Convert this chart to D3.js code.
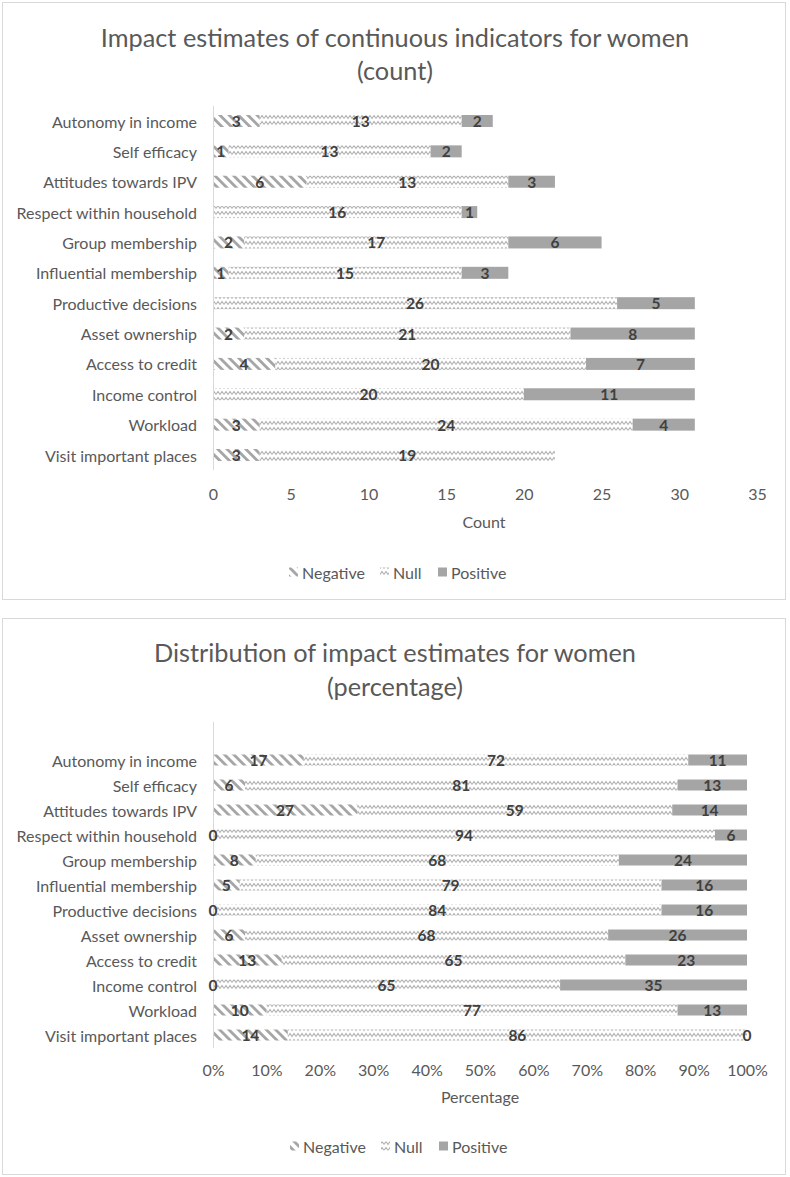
<!DOCTYPE html>
<html>
<head>
<meta charset="utf-8">
<script src="https://cdn.jsdelivr.net/npm/d3@7"></script>
<style>
  html, body { margin: 0; padding: 0; background: #fff; }
  svg { display: block; font-family: Lato, "Open Sans", sans-serif; }
</style>
</head>
<body>
<svg id="chart" width="790" height="1177"></svg>
<script>
// ---------------- data ----------------
const categories = [
  "Autonomy in income", "Self efficacy", "Attitudes towards IPV",
  "Respect within household", "Group membership", "Influential membership",
  "Productive decisions", "Asset ownership", "Access to credit",
  "Income control", "Workload", "Visit important places"
];
const seriesNames = ["Negative", "Null", "Positive"];

// counts (top chart)
const countNegative = [3, 1, 6, 0, 2, 1, 0, 2, 4, 0, 3, 3];
const countNull     = [13, 13, 13, 16, 17, 15, 26, 21, 20, 20, 24, 19];
const countPositive = [2, 2, 3, 1, 6, 3, 5, 8, 7, 11, 4, 0];

// percentages (bottom chart)
const pctNegative = [17, 6, 27, 0, 8, 5, 0, 6, 13, 0, 10, 14];
const pctNull     = [72, 81, 59, 94, 68, 79, 84, 68, 65, 65, 77, 86];
const pctPositive = [11, 13, 14, 6, 24, 16, 16, 26, 23, 35, 13, 0];

const countTicks = [0, 5, 10, 15, 20, 25, 30, 35];
const pctTicks = [0, 0.1, 0.2, 0.3, 0.4, 0.5, 0.6, 0.7, 0.8, 0.9, 1.0];

// ---------------- styles ----------------
const TXT = "#595959";
const LBL = "#404040";
const GRID = "#d9d9d9";
const FONT = "Lato, 'Open Sans', sans-serif";
const FS = 16;

const svg = d3.select("#chart");
const defs = svg.append("defs");

// Negative: diagonal stripes "\"
const pNeg = defs.append("pattern")
  .attr("id", "pNeg").attr("patternUnits", "userSpaceOnUse")
  .attr("width", 6.6).attr("height", 6.6)
  .attr("patternTransform", "rotate(-45)");
pNeg.append("rect").attr("x", 0).attr("y", 0).attr("width", 2.8).attr("height", 6.6).attr("fill", "#a6a6a6");

// Null: wave
const pNull = defs.append("pattern")
  .attr("id", "pNull").attr("patternUnits", "userSpaceOnUse")
  .attr("width", 8).attr("height", 6);
pNull.append("path").attr("d", "M0,4.5 L2,1.5 L4,4.5 L6,1.5 L8,4.5")
  .attr("fill", "none").attr("stroke", "#b3b3b3").attr("stroke-width", 1.1);

const fills = { Negative: "url(#pNeg)", Null: "url(#pNull)", Positive: "#a5a5a5" };

function panel(y0, h) {
  svg.append("rect").attr("x", 2.5).attr("y", y0 + 0.5).attr("width", 783).attr("height", h)
    .attr("fill", "#fff").attr("stroke", GRID).attr("stroke-width", 1);
}

function drawChart(cfg) {
  panel(cfg.panelY, cfg.panelH);
  const g = svg.append("g").attr("font-family", FONT);

  // title
  cfg.title.forEach((t, i) => {
    g.append("text").attr("x", 395).attr("y", cfg.titleY[i])
      .attr("text-anchor", "middle").attr("dominant-baseline", "central")
      .attr("fill", TXT).attr("font-size", 25.3).text(t);
  });

  const rows = categories.map((c, i) => ({
    cat: c, Negative: cfg.neg[i], Null: cfg.nul[i], Positive: cfg.pos[i]
  }));

  const stack = d3.stack().keys(seriesNames);
  if (cfg.expand) stack.offset(d3.stackOffsetExpand);
  const layers = stack(rows);

  const x = d3.scaleLinear().domain(cfg.domain).range([213, cfg.xMax]);
  const y = d3.scalePoint().domain(categories).range(cfg.rowRange);
  const bh = cfg.barH;

  // bars
  layers.forEach(layer => {
    g.append("g").selectAll("rect").data(layer).join("rect")
      .attr("x", d => x(d[0]))
      .attr("y", d => y(d.data.cat) - bh / 2)
      .attr("width", d => Math.max(0, x(d[1]) - x(d[0])))
      .attr("height", bh)
      .attr("fill", fills[layer.key]);
  });

  // vertical axis line
  g.append("line").attr("x1", 213.5).attr("x2", 213.5)
    .attr("y1", cfg.axisTop).attr("y2", cfg.axisBottom)
    .attr("stroke", GRID).attr("stroke-width", 1);

  // category labels
  g.selectAll("text.cat").data(categories).join("text")
    .attr("class", "cat")
    .attr("x", 197).attr("y", d => y(d))
    .attr("text-anchor", "end").attr("dominant-baseline", "central")
    .attr("fill", TXT).attr("font-size", FS).text(d => d);

  // data labels
  layers.forEach(layer => {
    const vals = layer.key === "Negative" ? cfg.neg : layer.key === "Null" ? cfg.nul : cfg.pos;
    g.append("g").selectAll("text").data(layer.map((d, i) => ({ d, v: vals[i] })))
      .join("text")
      .filter(o => cfg.showZero || o.v !== 0)
      .attr("x", o => (x(o.d[0]) + x(o.d[1])) / 2)
      .attr("y", o => y(o.d.data.cat))
      .attr("text-anchor", "middle").attr("dominant-baseline", "central")
      .attr("fill", LBL).attr("font-size", 15.5).attr("font-weight", "bold")
      .text(o => o.v);
  });

  // x axis tick labels
  const ax = d3.axisBottom(x).tickValues(cfg.ticks).tickSize(0).tickPadding(0)
    .tickFormat(cfg.tickFormat);
  const axG = g.append("g").attr("transform", `translate(0,${cfg.tickY})`).call(ax);
  axG.attr("font-family", FONT).attr("font-size", FS);
  axG.select(".domain").remove();
  axG.selectAll("text").attr("fill", TXT)
    .attr("dy", null).attr("y", 0).attr("dominant-baseline", "central");

  // axis title
  g.append("text").attr("x", cfg.axisTitleX).attr("y", cfg.axisTitleY)
    .attr("text-anchor", "middle").attr("dominant-baseline", "central")
    .attr("fill", TXT).attr("font-size", FS).text(cfg.axisTitle);

  // legend
  const lg = g.append("g");
  cfg.legendX.forEach((lx, i) => {
    const k = seriesNames[i];
    lg.append("rect").attr("x", lx).attr("y", cfg.legendY - 4.5)
      .attr("width", 9).attr("height", 9).attr("fill", fills[k]);
    lg.append("text").attr("x", lx + 13).attr("y", cfg.legendY)
      .attr("dominant-baseline", "central").attr("fill", TXT)
      .attr("font-size", FS).text(k);
  });
}

drawChart({
  panelY: 2, panelH: 597,
  title: ["Impact estimates of continuous indicators for women", "(count)"],
  titleY: [37, 70],
  neg: countNegative, nul: countNull, pos: countPositive,
  expand: false, showZero: false,
  domain: [0, 35], xMax: 757,
  rowRange: [121, 455], barH: 12,
  axisTop: 106, axisBottom: 470,
  ticks: countTicks, tickFormat: d3.format("d"), tickY: 493,
  axisTitle: "Count", axisTitleX: 484, axisTitleY: 521,
  legendX: [289, 380, 438], legendY: 572
});

drawChart({
  panelY: 618, panelH: 556,
  title: ["Distribution of impact estimates for women", "(percentage)"],
  titleY: [652, 686],
  neg: pctNegative, nul: pctNull, pos: pctPositive,
  expand: true, showZero: true,
  domain: [0, 1], xMax: 747,
  rowRange: [760, 1035], barH: 11,
  axisTop: 722, axisBottom: 1048,
  ticks: pctTicks, tickFormat: d3.format(".0%"), tickY: 1069,
  axisTitle: "Percentage", axisTitleX: 480, axisTitleY: 1096,
  legendX: [290, 381, 439], legendY: 1146
});
</script>
</body>
</html>
